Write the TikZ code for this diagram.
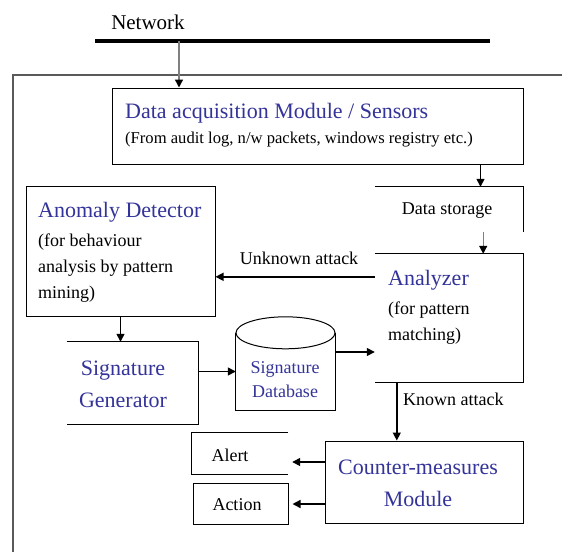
\documentclass[tikz,border=0pt]{standalone}
\usepackage{fontspec}
\setmainfont{LiberationSerif-Regular.ttf}
\usetikzlibrary{arrows.meta}
\definecolor{titleblue}{RGB}{51,51,153}
\definecolor{framegray}{RGB}{90,90,90}
\tikzset{
    box/.style={draw, line width=1pt, inner sep=0pt},
    openbox/.style={inner sep=0pt},
    edge/.style={line width=1pt},
    ttl/.style={text=titleblue, font=\fontsize{22}{32}\selectfont, inner sep=0pt},
    txt/.style={font=\fontsize{18}{26}\selectfont, inner sep=0pt},
    arr/.style={line width=1.4pt, -{Triangle[length=8pt,width=8pt]}},
    garr/.style={draw=gray, line width=1.4pt, -{Triangle[length=8pt,width=8pt,color=black]}}
}
\begin{document}
\begin{tikzpicture}[x=1pt,y=-1pt]
            \useasboundingbox (0,0) rectangle (562,552);
            %%frame and network bar
            \draw[framegray, line width=1.2pt] (13,552) to (13,75) to (562,75);
            \draw[line width=4pt] (95,41) to (490,41);
                \node[txt, font=\fontsize{21}{24}\selectfont] (net) at (148,22){Network};
            \coordinate (tap) at (179,41);

            %%draw the boxes
            \node[box, minimum width=411pt, minimum height=76pt] (acq) at (317.5,126){};
                \node[ttl, anchor=west] (acqt) at (125,113){Data acquisition Module / Sensors};
                \node[txt, font=\fontsize{16.6}{20}\selectfont, anchor=west] (acqs) at (125,140){(From audit log, n/w packets, windows registry etc.)};

            \node[openbox, minimum width=148pt, minimum height=45pt] (store) at (449,209.5){};
            \draw[edge] (store.north west) to (store.north east) to (store.south east);
                \node[txt] (storet) at (447,211){Data storage};

            \node[openbox, minimum width=148pt, minimum height=128pt] (anlz) at (449,318){};
            \draw[edge] (anlz.north west) to (anlz.north east) to (anlz.south east) to (anlz.south west);
                \node[ttl, anchor=west] (anlzt) at (388,280){Analyzer};
                \node[txt, anchor=west, align=left] (anlzs) at (388,323){(for pattern\\matching)};

            \node[box, minimum width=189pt, minimum height=130pt] (anom) at (120.5,251){};
                \node[ttl, anchor=west] (anomt) at (38,212){Anomaly Detector};
                \node[txt, anchor=west, align=left] (anoms) at (38,268){(for behaviour\\analysis by pattern\\mining)};

            \node[openbox, minimum width=131pt, minimum height=82pt] (sig) at (132.5,383){};
            \draw[edge] (sig.north west) to (sig.north east) to (sig.south east) to (sig.south west);
                \node[ttl, align=center] (sigt) at (123,384){Signature\\Generator};

            \node[openbox, minimum width=99pt, minimum height=77pt] (db) at (285.5,371.5){};
            \draw[edge] (db.north west) to (db.south west) to (db.south east) to (db.north east);
            \draw[edge] (db.north) ellipse [x radius=49.5pt, y radius=16pt];
                \node[txt, text=titleblue, font=\fontsize{18}{24}\selectfont, align=center] (dbt) at (285,380){Signature\\Database};

            \node[box, minimum width=198pt, minimum height=82pt] (cm) at (424,482){};
                \node[ttl, align=center] (cmt) at (418,483){Counter-measures\\Module};

            \node[openbox, minimum width=96pt, minimum height=41pt] (alert) at (240,453.5){};
            \draw[edge] (alert.north east) to (alert.north west) to (alert.south west) to (alert.south east);
                \node[txt] (alertt) at (230,455){Alert};
            \node[box, minimum width=95pt, minimum height=41pt] (act) at (240.5,503.5){};
                \node[txt] (actt) at (237,505){Action};

            %%draw the arrows
            \draw[garr] (tap) to (tap |- acq.north);
            \coordinate (s1) at ([xshift=-43pt]acq.south east);
            \draw[arr] (s1) to (s1 |- store.north);
            \coordinate (s2) at ([xshift=-40pt]store.south east);
            \draw[garr] (s2) to (s2 |- anlz.north);

            \coordinate (unk) at ([yshift=-23pt]anlz.north west);
            \draw[arr] (unk) to (unk -| anom.east);
                \node[txt] (unkl) at (299,258){Unknown attack};
            \draw[arr] (anom.south) to (anom.south |- sig.north);
            \draw[arr] (sig.east |- db.west) to (db.west);
            \coordinate (d1) at ([yshift=19.5pt]db.east);
            \draw[arr] (d1) to (d1 -| anlz.west);

            \coordinate (kn) at ([xshift=22pt]anlz.south west);
            \draw[arr] (kn) to (kn |- cm.north);
                \node[txt, anchor=west] (knl) at (403,399){Known attack};
            \coordinate (c1) at ([yshift=20pt]cm.west);
            \coordinate (c2) at ([yshift=-22pt]cm.west);
            \draw[arr, shorten >=4pt] (c1) to (c1 -| alert.east);
            \draw[arr, shorten >=4pt] (c2) to (c2 -| act.east);

        \end{tikzpicture}
\end{document}
